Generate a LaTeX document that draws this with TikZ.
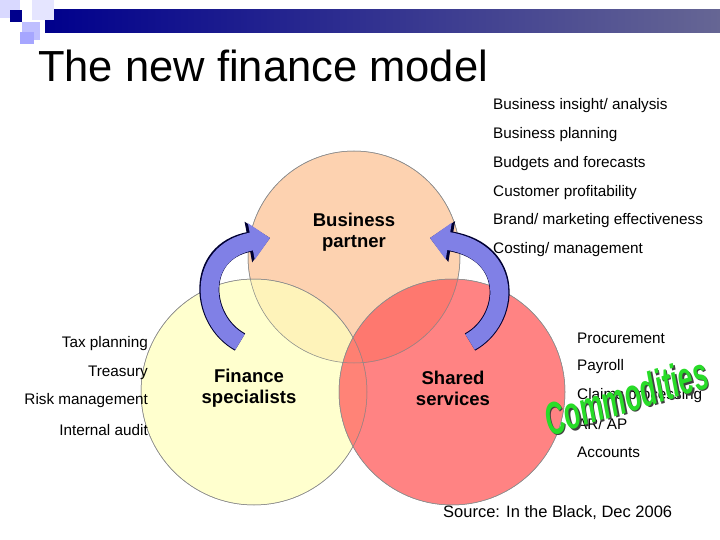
\documentclass[tikz,border=0pt]{standalone}
\usepackage{fontspec}
\setmainfont{Liberation Sans}
\usetikzlibrary{arrows.meta}
\begin{document}
\begin{tikzpicture}[x=1pt,y=-1pt,
  item/.style={anchor=west,font=\fontsize{15.3}{17}\selectfont,inner sep=0},
  litem/.style={anchor=east,font=\fontsize{15.3}{17}\selectfont,inner sep=0},
  clabel/.style={align=center,font=\fontsize{18.5}{21}\selectfont\bfseries},
  circ/.style={draw=black!45,line width=0.5pt,fill opacity=0.75},
  bluearrow/.style={draw=blue!20!black,fill=none,line width=20pt,-{Triangle[length=22pt,width=40pt]}},
  bluearrowin/.style={draw={rgb,255:red,128;green,128;blue,230},line width=18pt,-{Triangle[length=19pt,width=36pt]}}]
\useasboundingbox[fill=white] (0,0) rectangle (720,540);
% header decoration
\shade[left color=blue!55!black,right color=blue!30!black!60!white] (45,10) rectangle (720,33);
\fill[blue!15] (0,0) rectangle (20,18);
\fill[blue!10] (32,0) rectangle (54,20);
\fill[blue!25] (22,22) rectangle (40,40);
\fill[blue!55!black] (10,10) rectangle (22,22);
\fill[blue!35] (20,32) rectangle (34,44);
\node[anchor=base west,inner sep=0,font=\fontsize{43.5}{46}\selectfont] (title) at (38,82) {The new finance model};
% circles
\fill[circ,fill={rgb,255:red,253;green,196;blue,150}] (354,257) circle[radius=106];
\fill[circ,fill={rgb,255:red,255;green,255;blue,190}] (254,392) circle[radius=113];
\fill[circ,fill={rgb,255:red,255;green,90;blue,90}] (452,392) circle[radius=113];
\draw[black!45,line width=0.5pt] (354,257) circle[radius=106] (254,392) circle[radius=113] (452,392) circle[radius=113];
\node[clabel] (bp) at (354,232) {Business\\partner};
\node[clabel] (fs) at (249,388) {Finance\\specialists};
\node[clabel] (ss) at (453,388) {Shared\\services};
% arrows
\coordinate (la) at (240,342);
\coordinate (lb) at (270,238);
\coordinate (ra) at (470,342);
\coordinate (rb) at (430,238);
\draw[bluearrow] (la) .. controls (200,320) and (195,252) .. (lb);
\draw[bluearrowin] (la) .. controls (200,320) and (195,252) .. (lb);
\draw[bluearrow] (ra) .. controls (510,320) and (515,252) .. (rb);
\draw[bluearrowin] (ra) .. controls (510,320) and (515,252) .. (rb);
% lists
\node[item] (r1) at (493,106) {Business insight/ analysis};
\node[item] (r2) at (493,135) {Business planning};
\node[item] (r3) at (493,164) {Budgets and forecasts};
\node[item] (r4) at (493,193) {Customer profitability};
\node[item] (r5) at (493,221) {Brand/ marketing effectiveness};
\node[item] (r6) at (493,250) {Costing/ management};
\node[item] (s1) at (577,338) {Procurement};
\node[item] (s2) at (577,367) {Payroll};
\node[item] (s3) at (577,396) {Claims processing};
\node[item] (s4) at (577,424) {AR/ AP};
\node[item] (s5) at (577,452) {Accounts};
\node[litem] (l1) at (148,344) {Tax planning};
\node[litem] (l2) at (148,373) {Treasury};
\node[litem] (l3) at (148,401) {Risk management};
\node[litem] (l4) at (148,430) {Internal audit};
\node[anchor=west,inner sep=0,font=\fontsize{16.5}{18}\selectfont] (src) at (443,513) {Source: In the Black, Dec 2006};
% wordart
\node[rotate=17,font=\fontsize{34}{36}\selectfont\bfseries\itshape,text=black!75,xscale=0.78,yscale=1.35] (cm2) at (627.5,397.5) {Commodities};
\node[rotate=17,font=\fontsize{34}{36}\selectfont\bfseries\itshape,text={rgb,255:red,40;green,220;blue,40},xscale=0.78,yscale=1.35] (cm) at (626,396) {Commodities};
\end{tikzpicture}
\end{document}
